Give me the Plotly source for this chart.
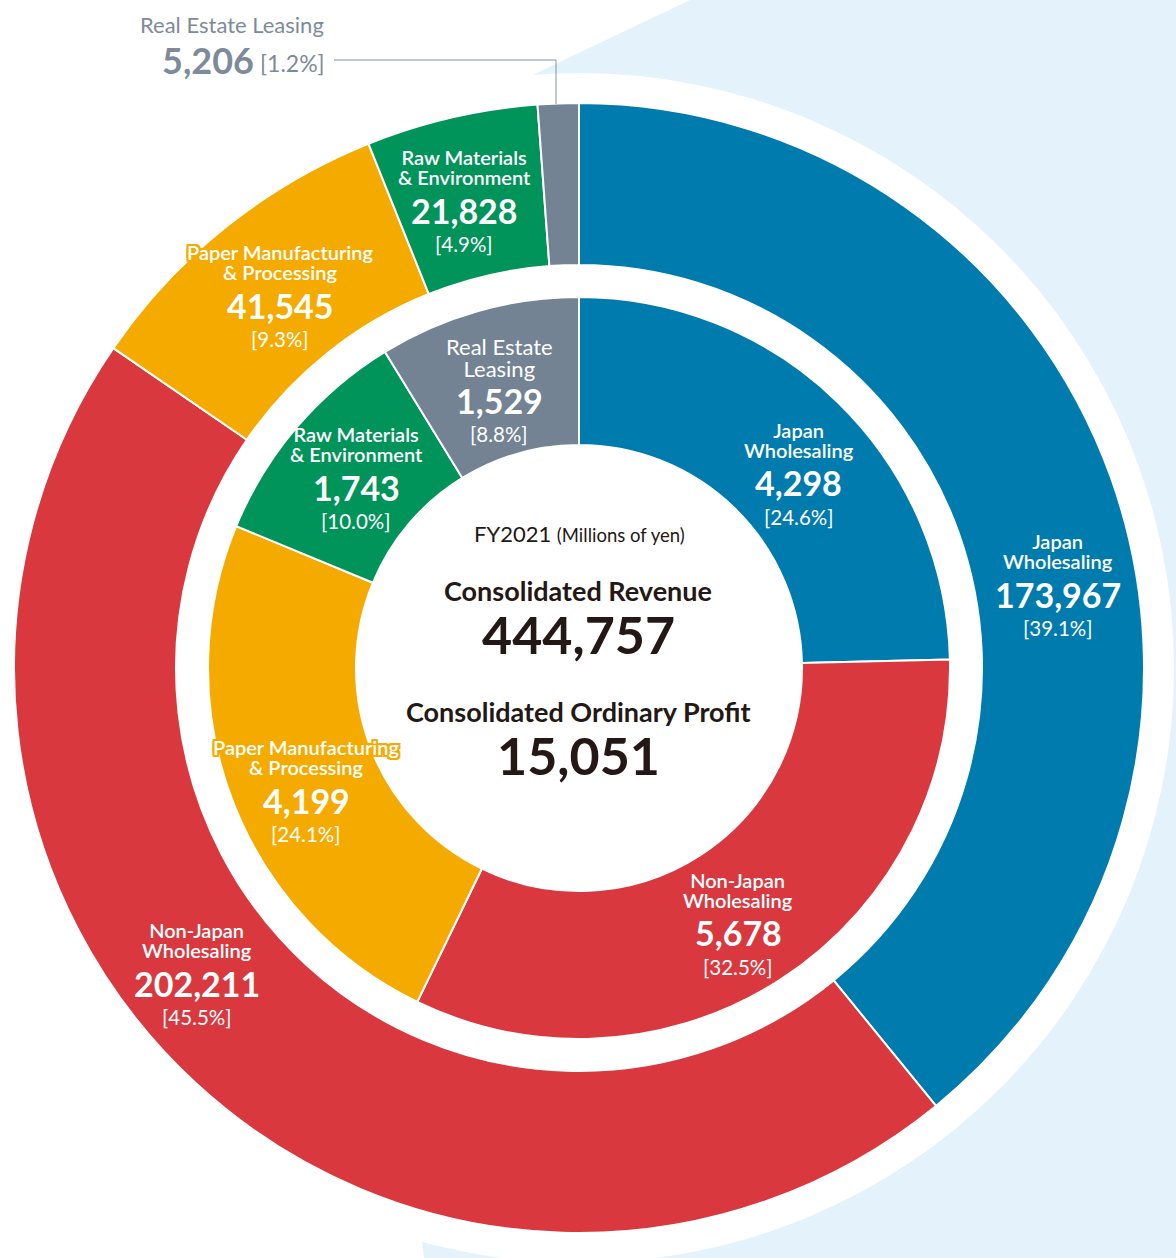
import plotly.graph_objects as go

# ---------------- data ----------------
segments = ["Japan Wholesaling", "Non-Japan Wholesaling", "Paper Manufacturing & Processing",
            "Raw Materials & Environment", "Real Estate Leasing"]
revenue = [173967, 202211, 41545, 21828, 5206]
profit = [4298, 5678, 4199, 1743, 1529]
total_revenue = 444757
total_profit = 15051
colors = ["#007BAE", "#D9383F", "#F5AA00", "#00935A", "#738394"]

# label name lines (as printed in the chart)
outer_names = [["Japan", "Wholesaling"], ["Non-Japan", "Wholesaling"],
               ["Paper Manufacturing", "& Processing"], ["Raw Materials", "& Environment"],
               ["Real Estate Leasing"]]
inner_names = [["Japan", "Wholesaling"], ["Non-Japan", "Wholesaling"],
               ["Paper Manufacturing", "& Processing"], ["Raw Materials", "& Environment"],
               ["Real Estate", "Leasing"]]

# ---------------- layout geometry (pixels) ----------------
W, H = 1176, 1258
CX, CY = 579, 668
R_OUT, R_OUT_IN = 565, 403
R_IN, R_IN_IN = 371, 223
R_WHITE = 595

FONT = "Lato"


def px(x):
    return x / W


def py(y):
    return 1 - y / H


def dom(r):
    return dict(x=[px(CX - r), px(CX + r)], y=[py(CY + r), py(CY - r)])


fig = go.Figure()
fig.add_trace(go.Pie(values=revenue, labels=segments, sort=False, direction="clockwise", rotation=0,
                     hole=R_OUT_IN / R_OUT, domain=dom(R_OUT), textinfo="none", hoverinfo="label+value",
                     marker=dict(colors=colors, line=dict(color="white", width=2)), showlegend=False))
fig.add_trace(go.Pie(values=profit, labels=segments, sort=False, direction="clockwise", rotation=0,
                     hole=R_IN_IN / R_IN, domain=dom(R_IN), textinfo="none", hoverinfo="label+value",
                     marker=dict(colors=colors, line=dict(color="white", width=2)), showlegend=False))

# ---------------- background shapes ----------------
def path(points):
    s = "M " + " L ".join(f"{px(x):.5f},{py(y):.5f}" for x, y in points) + " Z"
    return s


shapes = [
    dict(type="path", xref="paper", yref="paper", layer="below",
         path=path([(690, 0), (1176, 0), (1176, 1258), (424, 1258), (300, 186)]),
         fillcolor="#E4F2FC", line=dict(width=0)),
    dict(type="circle", xref="paper", yref="paper", layer="below",
         x0=px(CX - R_WHITE), x1=px(CX + R_WHITE), y0=py(CY + R_WHITE), y1=py(CY - R_WHITE),
         fillcolor="white", line=dict(width=0)),
    # leader line for the small Real Estate Leasing slice
    dict(type="path", xref="paper", yref="paper", layer="above",
         path=f"M {px(334):.5f},{py(60):.5f} L {px(556):.5f},{py(60):.5f} L {px(556):.5f},{py(104):.5f}",
         line=dict(color="#8593A1", width=1)),
]

# ---------------- annotations ----------------
ann = []


def txt(x, y, text, size, color="white", weight=400, xanchor="center", shadow=None):
    f = dict(family=FONT, size=size, color=color, weight=weight)
    if shadow:
        f["shadow"] = shadow
    ann.append(dict(x=px(x), y=py(y), xref="paper", yref="paper", text=text, showarrow=False,
                    xanchor=xanchor, yanchor="middle", font=f))


def names(x, y, lines, size, gap, weight, shadow=None):
    """Two-line name block: base font sets the line gap (1.3em), span sets the glyph size."""
    base = gap / 1.3
    body = "<br>".join(f"<span style='font-size:{size}px'>{ln}</span>" for ln in lines)
    txt(x, y + gap / 2, body, base, weight=weight, shadow=shadow)


def outline(c):
    return ", ".join(f"{dx}px {dy}px 0 {c}" for dx, dy in
                     [(-2, -2), (2, -2), (-2, 2), (2, 2), (0, -2), (0, 2), (-2, 0), (2, 0)])


def pct(v, tot):
    return f"[{100 * v / tot:.1f}%]"


# label positions (pixel centres of the first line)
outer_pos = [(1058, 541), (197, 930), (280, 252), (464, 157)]
inner_pos = [(799, 430), (738, 880), (306, 747), (356, 434), (499, 346)]

rev_sum = sum(revenue)
prof_sum = sum(profit)

NAME = 20
NUM = 34
PCT = 20.5

for i, (x, y) in enumerate(outer_pos):
    sh = outline(colors[i]) if i == 2 else None
    names(x, y, outer_names[i], NAME, 20, 600, sh)
    txt(x, y + 53, f"{revenue[i]:,}", NUM, weight=700)
    txt(x, y + 87, pct(revenue[i], rev_sum), PCT, weight=400)

for i, (x, y) in enumerate(inner_pos):
    sh = outline(colors[i]) if i == 2 else None
    if i == 4:
        names(x, y, inner_names[i], 22, 22, 400)
        txt(x, y + 54, f"{profit[i]:,}", NUM, weight=700)
        txt(x, y + 88, pct(profit[i], prof_sum), PCT, weight=400)
    else:
        names(x, y, inner_names[i], NAME, 20, 600, sh)
        txt(x, y + 53, f"{profit[i]:,}", NUM, weight=700)
        txt(x, y + 87, pct(profit[i], prof_sum), PCT, weight=400)

# small Real Estate Leasing outer label
GRAY_T = "#7D8B99"
txt(232, 25, outer_names[4][0], 22, color=GRAY_T, weight=400)
txt(256, 60, f"{revenue[4]:,}", 36, color=GRAY_T, weight=700, xanchor="right")
txt(258, 63, pct(revenue[4], rev_sum), 23, color=GRAY_T, weight=400, xanchor="left")

# centre text
DARK = "#231815"
txt(579, 533, "FY2021 <span style='font-size:18.5px'>(Millions of yen)</span>", 22, color=DARK, weight=400)
txt(578, 590, "Consolidated Revenue", 27, color=DARK, weight=700)
txt(578, 634, f"{total_revenue:,}", 52, color=DARK, weight=700)
txt(578, 711, "Consolidated Ordinary Profit", 27, color=DARK, weight=700)
txt(578, 755, f"{total_profit:,}", 52, color=DARK, weight=700)

fig.update_layout(width=W, height=H, margin=dict(l=0, r=0, t=0, b=0),
                  paper_bgcolor="white", plot_bgcolor="white",
                  shapes=shapes, annotations=ann, showlegend=False)

fig.write_html("out.html", config={"displayModeBar": False},
               post_script="document.body.style.margin='0px';document.body.style.padding='0px';")
